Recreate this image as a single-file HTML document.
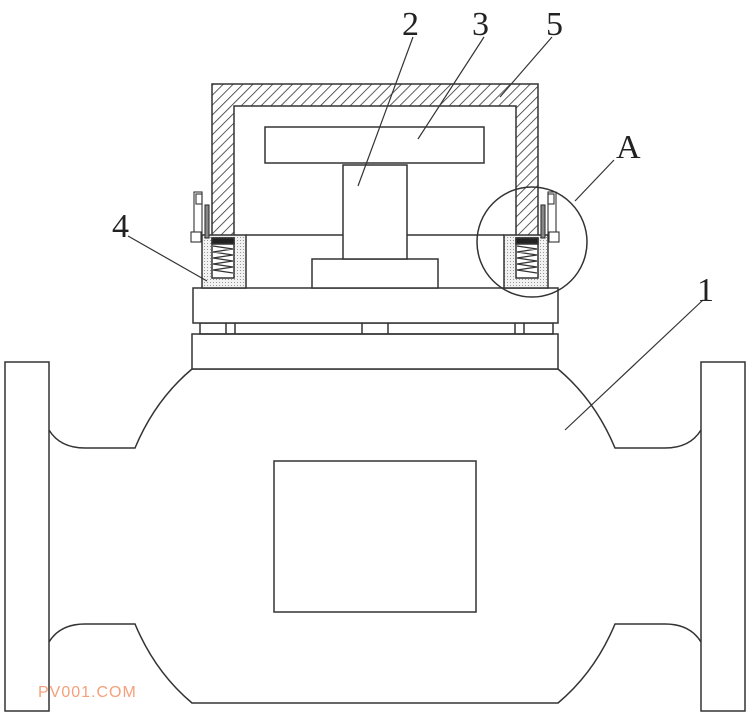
<!DOCTYPE html>
<html><head><style>html,body{margin:0;padding:0;background:#fff}svg{display:block}</style></head><body>
<svg width="750" height="717" viewBox="0 0 750 717" xmlns="http://www.w3.org/2000/svg">
<defs>
<pattern id="h" width="7" height="7" patternUnits="userSpaceOnUse" patternTransform="rotate(45)"><rect width="7" height="7" fill="#fff"/><line x1="0" y1="0" x2="0" y2="7" stroke="#333" stroke-width="1.6"/></pattern>
<pattern id="d" width="3" height="3" patternUnits="userSpaceOnUse"><rect width="3" height="3" fill="#f2f2f2"/><rect width="1" height="1" fill="#999"/></pattern>
</defs>
<g fill="none" stroke="#333" stroke-width="1.5">
<rect x="5" y="362" width="44" height="349" fill="#fff"/>
<rect x="701" y="362" width="44" height="349" fill="#fff"/>
<path d="M49,430 Q60,448 85,448 L135,448 Q155,400 192,369 L558,369 Q595,400 615,448 L665,448 Q690,448 701,430"/>
<path d="M49,642 Q60,624 85,624 L135,624 Q155,672 192,703 L558,703 Q595,672 615,624 L665,624 Q690,624 701,642"/>
<rect x="274" y="461" width="202" height="151"/>
<rect x="192" y="334" width="366" height="35" fill="#fff"/>
<rect x="200" y="323" width="353" height="11"/>
<line x1="226" y1="323" x2="226" y2="334"/><line x1="235" y1="323" x2="235" y2="334"/>
<line x1="362" y1="323" x2="362" y2="334"/><line x1="388" y1="323" x2="388" y2="334"/>
<line x1="515" y1="323" x2="515" y2="334"/><line x1="524" y1="323" x2="524" y2="334"/>
<rect x="193" y="288" width="365" height="35" fill="#fff"/>
<line x1="246" y1="235" x2="504" y2="235"/>
<rect x="312" y="259" width="126" height="29" fill="#fff"/>
<rect x="343" y="165" width="64" height="94" fill="#fff"/>
<rect x="265" y="127" width="219" height="36"/>
<path d="M212,84 H538 V238 H516 V106 H234 V238 H212 Z" fill="url(#h)"/>
<rect x="202" y="235" width="44" height="53" fill="url(#d)"/>
<rect x="212" y="238" width="22" height="40" fill="#fff"/>
<rect x="504" y="235" width="44" height="53" fill="url(#d)"/>
<rect x="516" y="238" width="22" height="40" fill="#fff"/>
<path d="M213,246 l20,3 l-20,3 l20,3 l-20,3 l20,3 l-20,3 l20,3 l-20,3 l20,3" stroke-width="1.2"/>
<path d="M517,246 l20,3 l-20,3 l20,3 l-20,3 l20,3 l-20,3 l20,3 l-20,3 l20,3" stroke-width="1.2"/>
<rect x="212" y="238" width="22" height="6" fill="#222"/>
<rect x="516" y="238" width="22" height="6" fill="#222"/>
<g stroke-width="1.1">
<rect x="194" y="192" width="8" height="46"/><rect x="196" y="194" width="6" height="10"/><rect x="205" y="205" width="4" height="33" fill="#888"/><rect x="191" y="232" width="10" height="10" fill="#fff"/>
<rect x="548" y="192" width="8" height="46"/><rect x="548" y="194" width="6" height="10"/><rect x="541" y="205" width="4" height="33" fill="#888"/><rect x="549" y="232" width="10" height="10" fill="#fff"/>
</g>
<circle cx="532" cy="242" r="55"/>
<g stroke-width="1.2">
<line x1="413" y1="37" x2="358" y2="186"/>
<line x1="484" y1="37" x2="418" y2="139"/>
<line x1="552" y1="37" x2="500" y2="97"/>
<line x1="575" y1="201" x2="614" y2="160"/>
<line x1="128" y1="236" x2="207" y2="281"/>
<line x1="703" y1="300" x2="565" y2="430"/>
</g>
</g>
<g font-family="Liberation Serif, serif" font-size="34" fill="#222">
<text x="402" y="35">2</text><text x="472" y="35">3</text><text x="546" y="35">5</text>
<text x="616" y="158">A</text><text x="112" y="237">4</text><text x="697" y="301">1</text>
</g>
<text x="38" y="697" font-family="Liberation Sans, sans-serif" font-size="16" fill="#f4a07a" letter-spacing="1">PV001.COM</text>
</svg>
</body></html>
